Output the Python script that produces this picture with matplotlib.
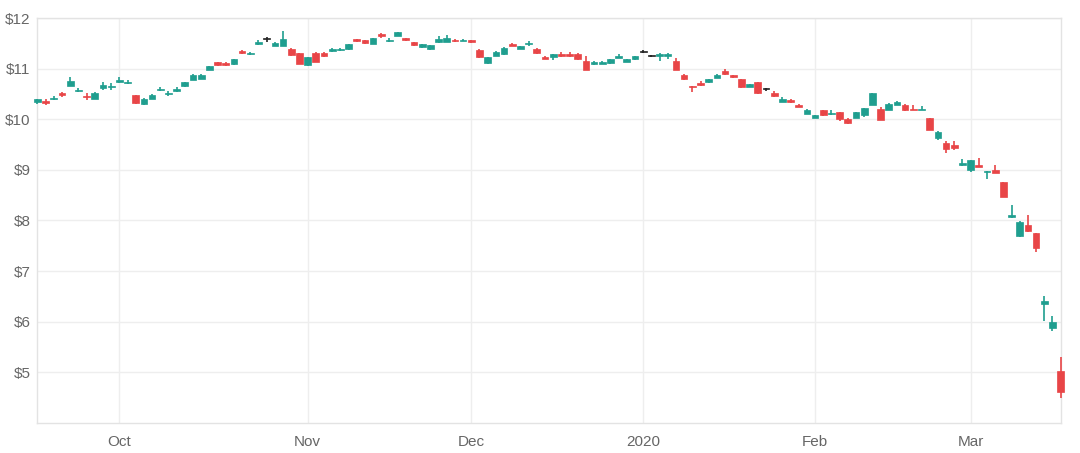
import matplotlib.pyplot as plt
import numpy as np
import pandas as pd

plt.rcParams['font.family'] = ['Liberation Sans', 'DejaVu Sans']

# trading days, 2019-09-17 .. 2020-03-17 (US market holidays removed)
HOLIDAYS = ['2019-11-28', '2019-12-25', '2020-01-01', '2020-01-20', '2020-02-17']
dates = pd.bdate_range('2019-09-17', '2020-03-17')
dates = dates[~dates.isin(pd.to_datetime(HOLIDAYS))]

opens = [10.34, 10.37, 10.41, 10.52, 10.66, 10.56, 10.47, 10.41, 10.62, 10.64,
         10.74, 10.72, 10.49, 10.30, 10.41, 10.58, 10.50, 10.56, 10.66, 10.78,
         10.80, 10.98, 11.13, 11.11, 11.09, 11.35, 11.29, 11.50, 11.60, 11.46,
         11.46, 11.40, 11.31, 11.07, 11.32, 11.32, 11.35, 11.37, 11.40, 11.59,
         11.57, 11.50, 11.69, 11.56, 11.65, 11.61, 11.53, 11.43, 11.39, 11.53,
         11.54, 11.58, 11.56, 11.57, 11.38, 11.12, 11.26, 11.29, 11.50, 11.40,
         11.49, 11.40, 11.24, 11.24, 11.30, 11.30, 11.29, 11.15, 11.09, 11.10,
         11.11, 11.22, 11.14, 11.19, 11.34, 11.26, 11.26, 11.26, 11.16, 10.88,
         10.66, 10.72, 10.73, 10.82, 10.96, 10.87, 10.79, 10.65, 10.73, 10.60,
         10.53, 10.35, 10.39, 10.29, 10.11, 10.03, 10.18, 10.10, 10.14, 10.01,
         10.03, 10.08, 10.29, 10.20, 10.19, 10.29, 10.29, 10.21, 10.19, 10.02,
         9.63, 9.53, 9.50, 9.09, 8.99, 9.10, 8.95, 9.00, 8.76, 8.06,
         7.70, 7.91, 7.75, 6.34, 5.88, 5.03]
highs = [10.41, 10.40, 10.46, 10.55, 10.83, 10.63, 10.52, 10.54, 10.73, 10.72,
         10.83, 10.77, 10.49, 10.42, 10.50, 10.65, 10.56, 10.64, 10.74, 10.90,
         10.89, 11.06, 11.14, 11.13, 11.20, 11.37, 11.33, 11.58, 11.63, 11.53,
         11.74, 11.42, 11.32, 11.24, 11.33, 11.33, 11.41, 11.41, 11.50, 11.60,
         11.58, 11.62, 11.71, 11.61, 11.73, 11.62, 11.54, 11.50, 11.48, 11.65,
         11.66, 11.59, 11.59, 11.58, 11.39, 11.24, 11.35, 11.43, 11.51, 11.46,
         11.55, 11.41, 11.25, 11.30, 11.33, 11.33, 11.31, 11.26, 11.15, 11.15,
         11.20, 11.29, 11.20, 11.26, 11.37, 11.28, 11.31, 11.31, 11.21, 10.89,
         10.67, 10.75, 10.80, 10.89, 10.99, 10.88, 10.80, 10.71, 10.74, 10.63,
         10.56, 10.44, 10.41, 10.30, 10.20, 10.09, 10.19, 10.18, 10.15, 10.02,
         10.15, 10.23, 10.53, 10.25, 10.32, 10.36, 10.30, 10.29, 10.26, 10.03,
         9.77, 9.58, 9.57, 9.22, 9.20, 9.24, 8.98, 9.09, 8.77, 8.30,
         7.99, 8.10, 7.76, 6.50, 6.12, 5.30]
lows = [10.30, 10.28, 10.39, 10.44, 10.66, 10.54, 10.39, 10.40, 10.59, 10.59,
        10.72, 10.70, 10.31, 10.28, 10.40, 10.56, 10.46, 10.55, 10.65, 10.77,
        10.79, 10.97, 11.05, 11.05, 11.08, 11.29, 11.28, 11.47, 11.54, 11.45,
        11.45, 11.25, 11.09, 11.06, 11.13, 11.24, 11.34, 11.36, 11.38, 11.54,
        11.50, 11.49, 11.62, 11.54, 11.64, 11.56, 11.46, 11.42, 11.38, 11.52,
        11.53, 11.54, 11.55, 11.51, 11.22, 11.10, 11.25, 11.28, 11.45, 11.39,
        11.45, 11.29, 11.19, 11.17, 11.24, 11.24, 11.18, 10.97, 11.08, 11.09,
        11.10, 11.21, 11.13, 11.18, 11.31, 11.24, 11.16, 11.19, 10.97, 10.78,
        10.55, 10.67, 10.72, 10.81, 10.88, 10.82, 10.63, 10.64, 10.51, 10.57,
        10.45, 10.34, 10.32, 10.24, 10.10, 10.02, 10.06, 10.09, 9.96, 9.91,
        10.02, 10.04, 10.28, 9.98, 10.18, 10.28, 10.17, 10.18, 10.18, 9.79,
        9.60, 9.34, 9.39, 9.07, 8.96, 9.05, 8.83, 8.93, 8.46, 8.05,
        7.68, 7.78, 7.38, 6.01, 5.82, 4.48]
closes = [10.40, 10.33, 10.43, 10.48, 10.75, 10.58, 10.44, 10.52, 10.69, 10.66,
          10.78, 10.74, 10.32, 10.41, 10.49, 10.61, 10.52, 10.61, 10.73, 10.87,
          10.88, 11.05, 11.07, 11.08, 11.19, 11.31, 11.32, 11.54, 11.60, 11.51,
          11.60, 11.27, 11.10, 11.23, 11.14, 11.25, 11.39, 11.39, 11.49, 11.55,
          11.51, 11.61, 11.65, 11.58, 11.72, 11.57, 11.47, 11.49, 11.47, 11.59,
          11.62, 11.55, 11.58, 11.53, 11.23, 11.23, 11.34, 11.42, 11.46, 11.45,
          11.51, 11.32, 11.20, 11.29, 11.26, 11.26, 11.19, 10.98, 11.14, 11.14,
          11.19, 11.26, 11.19, 11.25, 11.34, 11.26, 11.29, 11.30, 10.98, 10.79,
          10.64, 10.68, 10.79, 10.88, 10.89, 10.83, 10.64, 10.70, 10.52, 10.60,
          10.46, 10.40, 10.35, 10.25, 10.19, 10.08, 10.09, 10.11, 10.01, 9.92,
          10.14, 10.22, 10.52, 9.99, 10.31, 10.35, 10.18, 10.19, 10.21, 9.80,
          9.76, 9.42, 9.43, 9.14, 9.19, 9.06, 8.97, 8.94, 8.47, 8.11,
          7.98, 7.79, 7.45, 6.40, 5.99, 4.61]

month_labels = ['Oct', 'Nov', 'Dec', '2020', 'Feb', 'Mar']
y_ticks = [5, 6, 7, 8, 9, 10, 11, 12]

UP = '#1f9e8f'
DOWN = '#e84547'
FLAT = '#222222'
GRID = '#eeeeee'

o = np.array(opens)
h = np.array(highs)
l = np.array(lows)
c = np.array(closes)
x = np.arange(len(dates))
colors = np.where(c > o, UP, np.where(c < o, DOWN, FLAT))

fig = plt.figure(figsize=(10.8, 4.53), dpi=100)
ax = fig.add_axes([0.0347, 0.0669, 0.9474, 0.8927])

ax.vlines(x, l, h, colors=colors, linewidth=1.2, zorder=3, clip_on=False)
body_bottom = np.minimum(o, c)
body_height = np.maximum(np.abs(c - o), 0.018)
ax.bar(x, body_height, bottom=body_bottom, width=0.82, color=colors,
       edgecolor=colors, linewidth=0.5, zorder=4, clip_on=False)

# month gridlines at the first trading day of each month
month_idx = [i for i in range(1, len(dates)) if dates[i].month != dates[i - 1].month]
ax.set_xticks(month_idx)
ax.set_xticklabels(month_labels)
ax.set_xlim(0, len(dates) - 1)

ax.set_ylim(4, 12)
ax.set_yticks(y_ticks)
ax.set_yticklabels([f'${v}' for v in y_ticks])

ax.grid(True, color=GRID, linewidth=1, zorder=0)
ax.set_axisbelow(True)
for s in ax.spines.values():
    s.set_color('#e3e3e3')
    s.set_linewidth(1)
ax.tick_params(length=0, labelsize=11, colors='#666666')
ax.tick_params(axis='x', pad=9)
ax.tick_params(axis='y', pad=5)

fig.savefig('out.png', dpi=100)
